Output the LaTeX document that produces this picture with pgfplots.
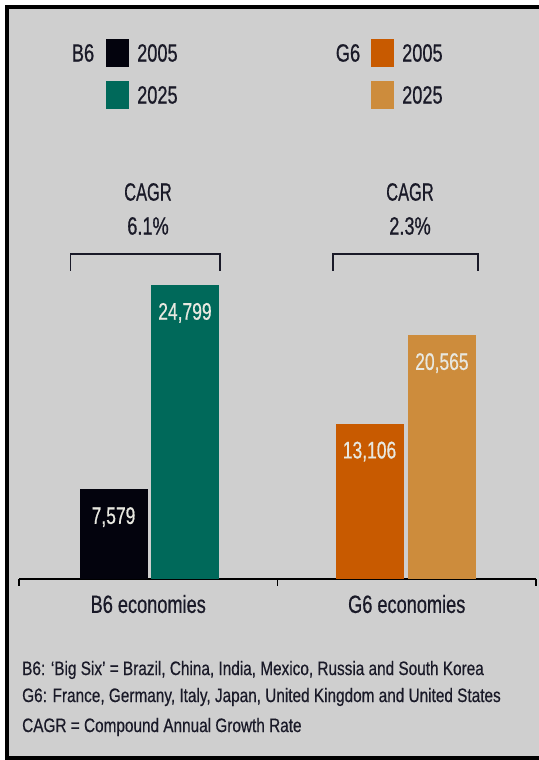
\documentclass[border=0pt]{standalone}
\usepackage{pgfplots}
\pgfplotsset{compat=1.18}
\usepackage{fontspec}
\setmainfont[FakeStretch=0.73, FakeBold=0.6]{Liberation Sans}
\newfontfamily\cagrfont[FakeStretch=0.66, FakeBold=0.6]{Liberation Sans}
\newfontfamily\footfont[FakeStretch=0.79, FakeBold=0.5]{Liberation Sans}
\definecolor{bgc}{HTML}{CFCFCF}
\definecolor{cb05}{HTML}{03030D}
\definecolor{cb25}{HTML}{00695A}
\definecolor{cg05}{HTML}{C85A00}
\definecolor{cg25}{HTML}{CD8C3C}
\definecolor{txt}{HTML}{1A1A28}
\definecolor{lbl}{HTML}{E8E8E0}
\newcommand{\bigf}{\fontsize{25}{29}\selectfont}
\newcommand{\cagrf}{\cagrfont\fontsize{25}{29}\selectfont}
\newcommand{\smallf}{\footfont\fontsize{19.5}{23}\selectfont}
\begin{document}
\begin{tikzpicture}[x=1bp,y=1bp]
\path[use as bounding box, fill=white] (0,0) rectangle (539,760);
\fill[black] (5,0) rectangle (539,755);
\fill[bgc] (9,4) rectangle (539,751);
\begin{axis}[
  at={(19bp,181bp)}, anchor=south west,
  width=517bp, height=355.8bp, scale only axis,
  xmin=0, xmax=2, ymin=0, ymax=30000,
  axis x line*=bottom, hide y axis, clip=false,
  x axis line style={line width=1.8bp, black},
  xtick={0.5,1.5}, xticklabels={B6 economies, G6 economies},
  major tick length=0pt,
  xticklabel style={anchor=center, yshift=-25bp, font=\bigf, text=txt},
  extra x ticks={0,1,2}, extra x tick labels={},
  extra x tick style={tick align=outside, major tick length=7bp, tick style={line width=1.8bp, black}},
  /pgf/number format/1000 sep={,},
  /pgf/number format/assume math mode=true,
  every node near coord/.append style={anchor=center, yshift=-28bp, text=lbl, font=\fontsize{24}{28}\selectfont},
]
\addplot[ybar, bar width=68bp, bar shift=0pt, fill=cb05, draw=none, nodes near coords] coordinates {(0.3656,7579)};
\addplot[ybar, bar width=68bp, bar shift=0pt, fill=cb25, draw=none, nodes near coords] coordinates {(0.642,24799)};
\addplot[ybar, bar width=68bp, bar shift=0pt, fill=cg05, draw=none, nodes near coords] coordinates {(1.356,13106)};
\addplot[ybar, bar width=68bp, bar shift=0pt, fill=cg25, draw=none, nodes near coords] coordinates {(1.636,20565)};
\end{axis}
% brackets
\draw[line width=1.5bp, txt] (70.5,489) -- (70.5,506) -- (220,506) -- (220,489);
\draw[line width=1.5bp, txt] (333,489) -- (333,506) -- (478,506) -- (478,489);
\node[font=\cagrf, text=txt] at (148,568) {CAGR};
\node[font=\bigf, text=txt] at (148,534) {6.1\%};
\node[font=\cagrf, text=txt] at (410,568) {CAGR};
\node[font=\bigf, text=txt] at (410,534) {2.3\%};
% legend
\node[font=\bigf, text=txt] at (83,707) {B6};
\fill[cb05] (106,693) rectangle (129,721);
\fill[cb25] (106,651) rectangle (129,679);
\node[font=\bigf, text=txt, anchor=west, inner sep=0pt] at (137,707) {2005};
\node[font=\bigf, text=txt, anchor=west, inner sep=0pt] at (137,665) {2025};
\node[font=\bigf, text=txt] at (348,707) {G6};
\fill[cg05] (371,693) rectangle (394,721);
\fill[cg25] (371,651) rectangle (394,679);
\node[font=\bigf, text=txt, anchor=west, inner sep=0pt] at (402,707) {2005};
\node[font=\bigf, text=txt, anchor=west, inner sep=0pt] at (402,665) {2025};
% footnotes
\node[font=\smallf, text=txt, anchor=west, inner sep=0pt] at (22,90) {B6: ‘Big Six’ = Brazil, China, India, Mexico, Russia and South Korea};
\node[font=\smallf, text=txt, anchor=west, inner sep=0pt] at (22,63) {G6: France, Germany, Italy, Japan, United Kingdom and United States};
\node[font=\smallf, text=txt, anchor=west, inner sep=0pt] at (22,33) {CAGR = Compound Annual Growth Rate};
\end{tikzpicture}
\end{document}
